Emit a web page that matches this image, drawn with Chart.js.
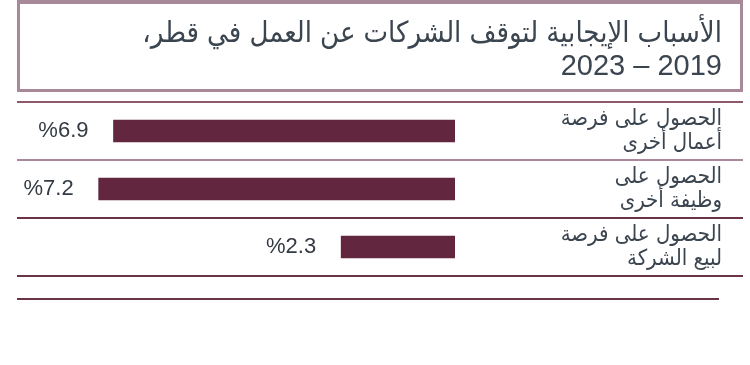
<!DOCTYPE html>
<html><head><meta charset="utf-8">
<script src="https://cdn.jsdelivr.net/npm/chart.js@4/dist/chart.umd.min.js"></script>
<style>
html,body{margin:0;padding:0;background:#fff;}
#wrap{position:relative;width:750px;height:365px;overflow:hidden;}
#title{position:absolute;left:17px;top:0;width:726px;height:92px;box-sizing:border-box;
  border:3px solid #a8899a;border-top-width:4px;direction:rtl;text-align:right;
  padding:12px 18px 0 0;color:#3b4550;font-family:'Liberation Sans','DejaVu Sans Condensed',sans-serif;
  font-size:29px;line-height:33px;z-index:2;}
canvas{position:absolute;left:0;top:0;}
</style></head>
<body><div id="wrap">
<div id="title">الأسباب الإيجابية لتوقف الشركات عن العمل في قطر،<br>2019 – 2023</div>
<canvas id="c" width="750" height="365"></canvas>
</div>
<script>
const categories = [
  ['الحصول على فرصة', 'أعمال أخرى'],
  ['الحصول على', 'وظيفة أخرى'],
  ['الحصول على فرصة', 'لبيع الشركة']
];
const values = [6.9, 7.2, 2.3];
const valueLabels = ['%6.9', '%7.2', '%2.3'];

const barColor = '#62263f';
const gridColors = ['#8a5a6a', '#a8889a', '#6b3446', '#6b3446'];

const valueLabelPlugin = {
  id: 'valueLabels',
  afterDatasetsDraw(chart) {
    const ctx = chart.ctx;
    const meta = chart.getDatasetMeta(0);
    ctx.save();
    ctx.font = "22px 'Liberation Sans Narrow', 'Liberation Sans', sans-serif";
    ctx.fillStyle = '#333a42';
    ctx.textAlign = 'right';
    ctx.textBaseline = 'middle';
    meta.data.forEach((bar, i) => {
      ctx.fillText(valueLabels[i], bar.x - 25, bar.y);
    });
    ctx.restore();
  }
};

const bottomRulePlugin = {
  id: 'bottomRule',
  afterDraw(chart) {
    const ctx = chart.ctx;
    const a = chart.chartArea;
    const y = a.bottom + 23;
    ctx.save();
    ctx.strokeStyle = '#6b3446';
    ctx.lineWidth = 2;
    ctx.beginPath();
    ctx.moveTo(a.left, y);
    ctx.lineTo(chart.scales.y.right - 3, y);
    ctx.stroke();
    ctx.restore();
  }
};

new Chart(document.getElementById('c'), {
  type: 'bar',
  data: {
    labels: categories,
    datasets: [{
      data: values,
      backgroundColor: barColor,
      barThickness: 22
    }]
  },
  options: {
    indexAxis: 'y',
    responsive: false,
    animation: false,
    devicePixelRatio: 1,
    layout: { padding: { top: 102, left: 17, right: 28, bottom: 89 } },
    plugins: { legend: { display: false }, tooltip: { enabled: false }, title: { display: false } },
    scales: {
      x: { type: 'linear', reverse: true, min: 0, max: 8.85, display: false, grid: { display: false } },
      y: {
        position: 'right',
        border: { display: false },
        grid: {
          offset: true,
          lineWidth: 2,
          color: ctx => gridColors[ctx.index] || '#6b3446',
          drawTicks: true,
          tickLength: 288
        },
        ticks: {
          crossAlign: 'far',
          padding: 0,
          color: '#3b4550',
          font: { family: "'DejaVu Sans Condensed', 'DejaVu Sans', sans-serif", size: 22, lineHeight: 1.1 }
        },
        afterFit: s => { s.width = 267; }
      }
    }
  },
  plugins: [valueLabelPlugin, bottomRulePlugin]
});
</script>
</body></html>
